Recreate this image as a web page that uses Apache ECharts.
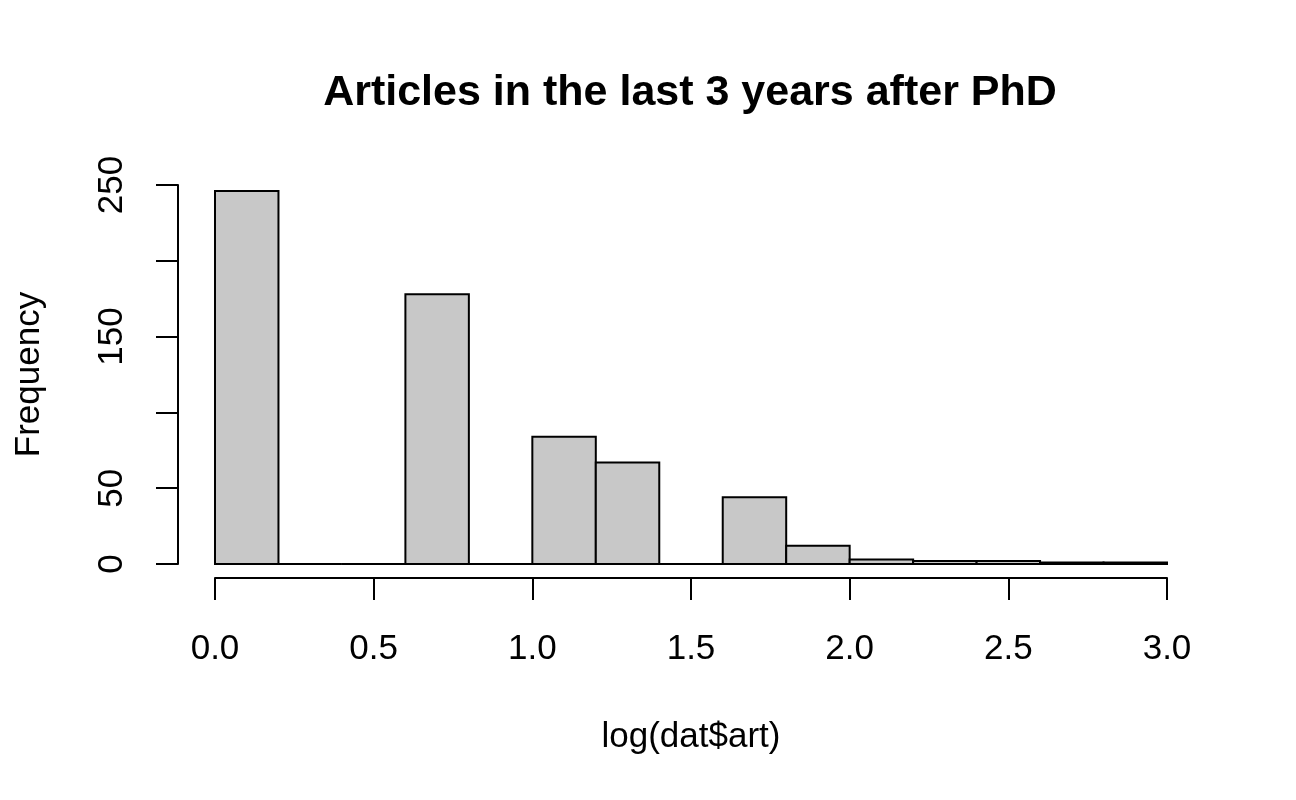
<!DOCTYPE html>
<html>
<head>
<meta charset="utf-8">
<title>Articles in the last 3 years after PhD</title>
<script src="https://cdn.jsdelivr.net/npm/echarts@6/dist/echarts.min.js"></script>
<style>
  html, body { margin: 0; padding: 0; background: #fff; }
  #chart { width: 1296px; height: 800px; }
</style>
</head>
<body>
<div id="chart"></div>
<script>
// histogram breaks and counts
let breaks = [0, 0.2, 0.4, 0.6, 0.8, 1.0, 1.2, 1.4, 1.6, 1.8, 2.0, 2.2, 2.4, 2.6, 2.8, 3.0]
let counts = [246, 0, 0, 178, 0, 84, 67, 0, 44, 12, 3, 2, 2, 1, 1]

// x ticks every 0.5, y ticks every 50 but only some labels are printed
let xTicks = ['0.0', '0.5', '1.0', '1.5', '2.0', '2.5', '3.0']
let yLabels = [0, 50, 150, 250]

let font = 'Liberation Sans, Arial, Helvetica, sans-serif'

let bins = counts.map((c, i) => [breaks[i], breaks[i + 1], c])

let chart = echarts.init(document.getElementById('chart'))

chart.setOption({
  animation: false,
  backgroundColor: '#fff',
  textStyle: { fontFamily: font, color: '#000' },
  title: {
    text: 'Articles in the last 3 years after PhD',
    left: 690,
    top: 72,
    padding: 0,
    textAlign: 'center',
    textStyle: { fontFamily: font, fontSize: 43, fontWeight: 'bold', color: '#000' }
  },
  grid: { left: 215, right: 129, top: 185, bottom: 236, containLabel: false },
  xAxis: {
    type: 'value',
    min: 0,
    max: 3,
    interval: 0.5,
    offset: 14,
    name: 'log(dat$art)',
    nameLocation: 'middle',
    nameGap: 142,
    nameTextStyle: { fontFamily: font, fontSize: 35, color: '#000' },
    axisLine: { show: true, onZero: false, lineStyle: { color: '#000', width: 2 } },
    axisTick: { show: true, length: 22, lineStyle: { color: '#000', width: 2 } },
    axisLabel: {
      margin: 54,
      fontFamily: font,
      fontSize: 35,
      color: '#000',
      formatter: v => xTicks[Math.round(v / 0.5)]
    },
    splitLine: { show: false }
  },
  yAxis: {
    type: 'value',
    min: 0,
    max: 250,
    interval: 50,
    offset: 37,
    name: 'Frequency',
    nameLocation: 'middle',
    nameRotate: 90,
    nameGap: 131,
    nameTextStyle: { fontFamily: font, fontSize: 35, color: '#000' },
    axisLine: { show: true, onZero: false, lineStyle: { color: '#000', width: 2 } },
    axisTick: { show: true, length: 22, lineStyle: { color: '#000', width: 2 } },
    axisLabel: {
      rotate: 90,
      margin: 48,
      fontFamily: font,
      fontSize: 35,
      color: '#000',
      formatter: v => (yLabels.indexOf(v) >= 0 ? String(v) : '')
    },
    splitLine: { show: false }
  },
  series: [{
    type: 'custom',
    data: bins,
    encode: { x: [0, 1], y: 2 },
    renderItem (params, api) {
      let topLeft = api.coord([api.value(0), api.value(2)])
      let bottomRight = api.coord([api.value(1), 0])
      return {
        type: 'rect',
        shape: {
          x: topLeft[0],
          y: topLeft[1],
          width: bottomRight[0] - topLeft[0],
          height: bottomRight[1] - topLeft[1]
        },
        style: { fill: '#c8c8c8', stroke: '#000', lineWidth: 2 }
      }
    }
  }]
})
</script>
</body>
</html>
